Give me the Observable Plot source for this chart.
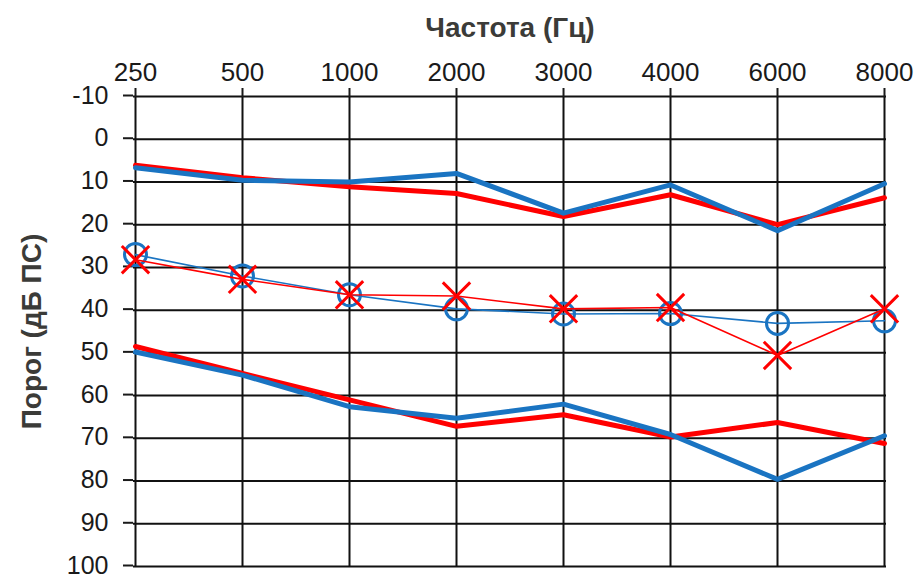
<!DOCTYPE html>
<html><head><meta charset="utf-8">
<script src="https://cdn.jsdelivr.net/npm/d3@7"></script>
<script src="https://cdn.jsdelivr.net/npm/@observablehq/plot@0.6"></script>
<style>body{margin:0;background:#fff}</style>
</head><body><div id="chart"></div>
<script>
const freqs = ["250", "500", "1000", "2000", "3000", "4000", "6000", "8000"];
const yTicks = [-10, 0, 10, 20, 30, 40, 50, 60, 70, 80, 90, 100];
const upperRed = [6.1, 9.0, 11.1, 12.7, 18.1, 13.0, 20.0, 13.7];
const upperBlue = [6.7, 9.6, 10.0, 8.0, 17.3, 10.7, 21.4, 10.4];
const lowerRed = [48.5, 54.8, 61.0, 67.2, 64.5, 69.7, 66.3, 71.2];
const lowerBlue = [49.8, 55.2, 62.6, 65.3, 62.0, 69.1, 79.6, 69.4];
const circles = [27.0, 32.0, 36.4, 39.7, 40.9, 40.8, 43.1, 42.5];
const crosses = [28.2, 32.8, 36.4, 36.7, 39.7, 39.4, 50.6, 39.7];
const xTitle = "Частота (Гц)";
const yTitle = "Порог (дБ ПС)";

const RED = "#ff0000", BLUE = "#1a74c2";
const rows = (vals) => freqs.map((f, i) => ({freq: f, value: vals[i]}));

const chart = Plot.plot({
  width: 918, height: 579,
  marginLeft: 133, marginRight: 32, marginTop: 96, marginBottom: 13,
  style: {fontFamily: "'Liberation Sans', Arial, sans-serif", fontSize: "25px", color: "#1a1a1a", background: "#fff"},
  x: {type: "point", domain: freqs, padding: 0},
  y: {domain: [-10, 100], reverse: true},
  marks: [
    Plot.gridX({stroke: "#111", strokeOpacity: 1, strokeWidth: 2}),
    Plot.gridY(yTicks, {stroke: "#111", strokeOpacity: 1, strokeWidth: 2}),
    Plot.axisX({anchor: "top", tickSize: 9, tickPadding: 7, strokeWidth: 2, fontSize: 26, fill: "#1a1a1a", label: null}),
    Plot.axisY(yTicks, {anchor: "left", tickSize: 10, tickPadding: 15, strokeWidth: 2, fontSize: 25, dy: -1, fill: "#1a1a1a", label: null, tickFormat: d => String(d)}),
    Plot.lineY(rows(upperRed), {x: "freq", y: "value", stroke: RED, strokeWidth: 5}),
    Plot.lineY(rows(upperBlue), {x: "freq", y: "value", stroke: BLUE, strokeWidth: 5}),
    Plot.lineY(rows(lowerRed), {x: "freq", y: "value", stroke: RED, strokeWidth: 5}),
    Plot.lineY(rows(lowerBlue), {x: "freq", y: "value", stroke: BLUE, strokeWidth: 5}),
    Plot.lineY(rows(circles), {x: "freq", y: "value", stroke: BLUE, strokeWidth: 1.6}),
    Plot.dot(rows(circles), {x: "freq", y: "value", r: 11, stroke: BLUE, strokeWidth: 3, fill: "none"}),
    Plot.lineY(rows(crosses), {x: "freq", y: "value", stroke: RED, strokeWidth: 1.6}),
    Plot.dot(rows(crosses), {x: "freq", y: "value", r: 12.5, symbol: "times", stroke: RED, strokeWidth: 3}),
    Plot.text([xTitle], {frameAnchor: "top", dy: -68, lineAnchor: "middle", textAnchor: "middle", fontSize: 28, fontWeight: "bold", fill: "#3b3b38"}),
    Plot.text([yTitle], {frameAnchor: "left", dx: -101, rotate: -90, lineAnchor: "middle", textAnchor: "middle", fontSize: 28, fontWeight: "bold", fill: "#3b3b38"})
  ]
});
document.getElementById("chart").append(chart);
</script>
</body></html>
